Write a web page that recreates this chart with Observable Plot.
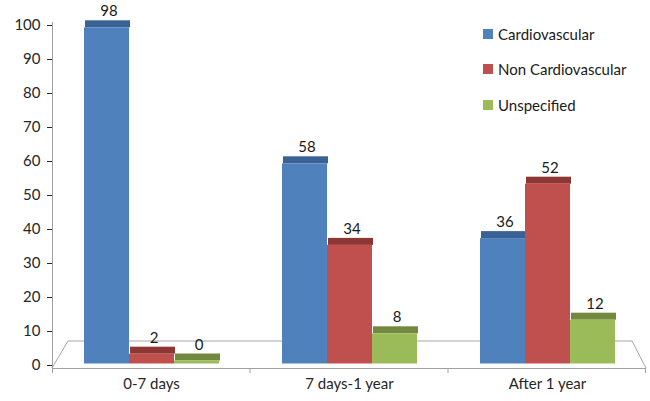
<!DOCTYPE html>
<html><head><meta charset="utf-8">
<script src="https://cdn.jsdelivr.net/npm/d3@7"></script>
<script src="https://cdn.jsdelivr.net/npm/@observablehq/plot@0.6"></script>
<style>
body{margin:0;background:#fff;font-family:Lato,"Open Sans",sans-serif;}
#wrap{position:relative;width:650px;height:401px;}
#legend{position:absolute;left:483px;top:16px;font-size:15px;color:#1a1a1a;}
.item{display:flex;align-items:center;height:35.5px;}
.sw{width:10px;height:10px;margin-right:5px;}
</style></head><body><div id="wrap"><div id="chart"></div><div id="legend"></div></div>
<script>
const categories = ["0-7 days", "7 days-1 year", "After 1 year"];
const series = ["Cardiovascular", "Non Cardiovascular", "Unspecified"];
const cardiovascular = [98, 58, 36];
const nonCardiovascular = [2, 34, 52];
const unspecified = [0, 8, 12];
const yTicks = [0, 10, 20, 30, 40, 50, 60, 70, 80, 90, 100];
const frontColors = ["#4F81BD", "#C0504D", "#9BBB59"];
const topColors = ["#3A6194", "#8E3634", "#72893F"];

const valuesBySeries = [cardiovascular, nonCardiovascular, unspecified];
const data = [];
categories.forEach((c, i) => series.forEach((s, j) => data.push({category: c, series: s, value: valuesBySeries[j][i], si: j})));

const depthY = 7, lift = 4.5;
const plot = Plot.plot({
  width: 650, height: 401,
  marginLeft: 52, marginRight: 4, marginTop: 25, marginBottom: 36,
  style: {fontFamily: "Lato, 'Open Sans', sans-serif", fontSize: "15px", color: "#262626", background: "transparent"},
  fx: {domain: categories, padding: 0, label: null, tickSize: 0, tickPadding: 13},
  x: {domain: series, paddingInner: 0, paddingOuter: 0.675, axis: null},
  y: {domain: [0, 100], ticks: yTicks, tickSize: 5, tickPadding: 7, label: null},
  marks: [
    // top face of each 3D bar
    Plot.barY(data, {fx: "category", x: "series", y1: "value", y2: "value", fill: d => topColors[d.si], dx: 1, dy: -lift, insetTop: -depthY}),
    // front face
    Plot.barY(data, {fx: "category", x: "series", y: "value", fill: d => frontColors[d.si], dy: -lift, insetBottom: 1.5 - lift}),
    Plot.text(data, {fx: "category", x: "series", y: "value", text: d => String(d.value), dx: 2, dy: -16, lineAnchor: "bottom", fill: "#1a1a1a", fontSize: 15})
  ]
});
document.getElementById("chart").appendChild(plot);

// floor, axis line, and category separators (decoration)
const svg = d3.select(plot);
const ys = plot.scale("y"), fxs = plot.scale("fx");
const y0 = ys.apply(0) + 3, yTop = ys.apply(100) - 3;
const L = fxs.apply(categories[0]), R = fxs.apply(categories[categories.length - 1]) + fxs.bandwidth;
const yBack = y0 - 27;
const g = svg.insert("g", "g").attr("fill", "none").attr("stroke", "#A6A6A6").attr("stroke-width", 1);
g.append("path").attr("d", `M${L},${y0}L${L + 16},${yBack}L${R - 14},${yBack}L${R},${y0}`);
const g2 = svg.append("g").attr("fill", "none").attr("stroke", "#A0A0A0").attr("stroke-width", 1);
g2.append("line").attr("x1", L).attr("x2", R).attr("y1", y0 + 0.5).attr("y2", y0 + 0.5);
g2.append("line").attr("x1", L + 0.5).attr("x2", L + 0.5).attr("y1", yTop).attr("y2", y0 + 5);
categories.forEach((c, i) => { if (i > 0) { const x = fxs.apply(c); g2.append("line").attr("x1", x).attr("x2", x).attr("y1", y0).attr("y2", y0 + 5); } });
g2.append("line").attr("x1", R - 0.5).attr("x2", R - 0.5).attr("y1", y0).attr("y2", y0 + 5);

const legend = document.getElementById("legend");
series.forEach((s, j) => {
  const it = document.createElement("div"); it.className = "item";
  it.innerHTML = `<div class="sw" style="background:${frontColors[j]}"></div><span>${s}</span>`;
  legend.appendChild(it);
});
</script></body></html>
